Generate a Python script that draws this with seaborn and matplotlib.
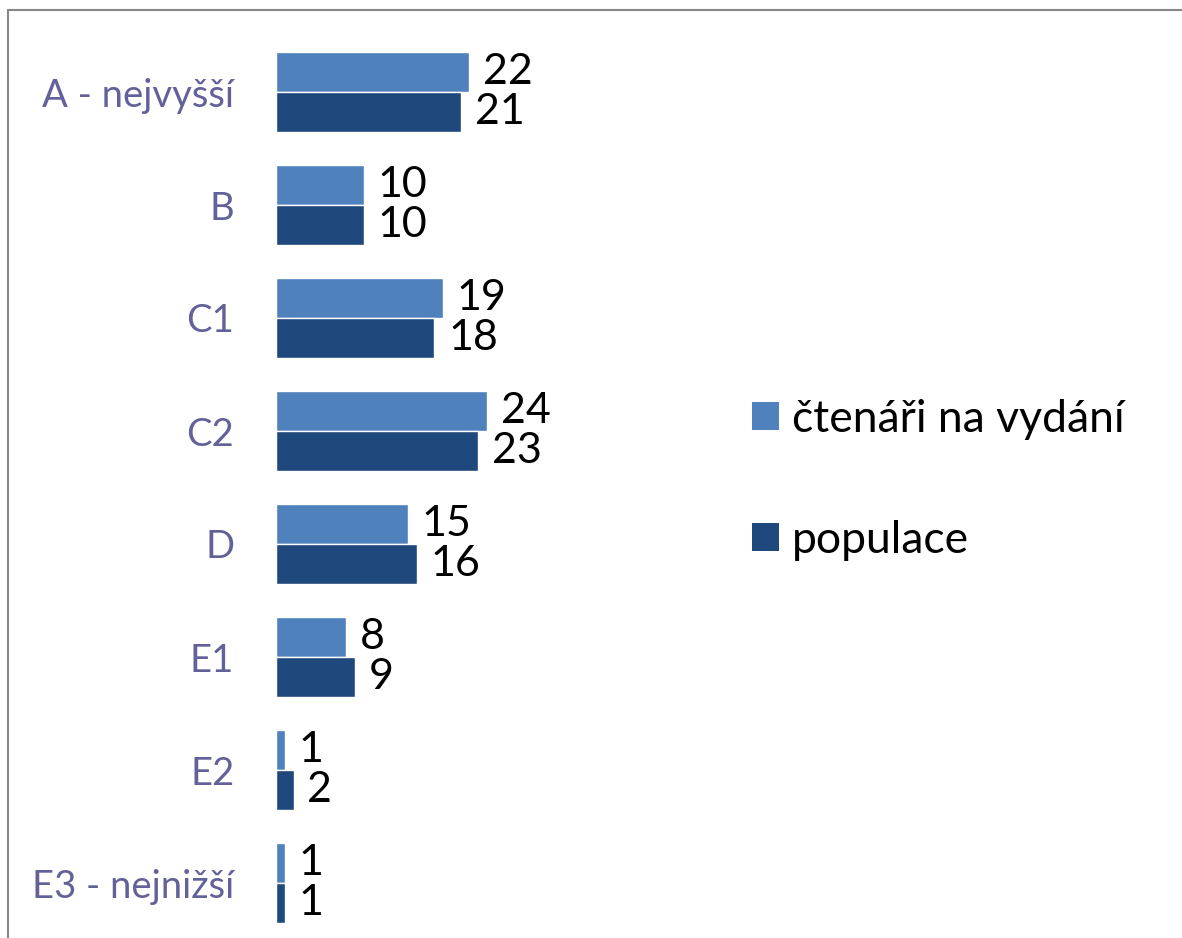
import matplotlib
matplotlib.use("Agg")
import matplotlib.pyplot as plt
import matplotlib.patches as mpatches
import seaborn as sns
import pandas as pd

categories = ["A - nejvyšší", "B", "C1", "C2", "D", "E1", "E2", "E3 - nejnižší"]
series_names = ["čtenáři na vydání", "populace"]
ctenari = [22, 10, 19, 24, 15, 8, 1, 1]
populace = [21, 10, 18, 23, 16, 9, 2, 1]
colors = ["#4f81bd", "#1f497d"]

df = pd.DataFrame({
    "kategorie": categories * 2,
    "hodnota": ctenari + populace,
    "serie": [series_names[0]] * len(categories) + [series_names[1]] * len(categories),
})

sns.set_style("white")
plt.rcParams["font.family"] = ["Lato", "DejaVu Sans"]

fig = plt.figure(figsize=(11.82, 9.38), dpi=100)
ax = fig.add_axes([276 / 1182, (938 - 939.5) / 938, 422 / 1182, 904 / 938])

sns.barplot(data=df, y="kategorie", x="hodnota", hue="serie", orient="h",
            palette=colors, saturation=1, width=0.708, gap=0, ax=ax,
            order=categories, hue_order=series_names, legend=False)

for cont in ax.containers:
    ax.bar_label(cont, padding=10, fontsize=31, color="black")

ax.set_xlim(0, 48)
ax.set_ylim(7.5, -0.5)
ax.set_xlabel("")
ax.set_ylabel("")
ax.set_xticks([])
for s in ax.spines.values():
    s.set_visible(False)
ax.tick_params(axis="y", length=0, pad=30, labelsize=27.5, labelcolor="#62619a")

handles = [mpatches.Patch(facecolor=c, edgecolor="none") for c in colors]
fig.legend(handles, series_names, loc="center left",
           bbox_to_anchor=(712 / 1182, 1 - 480 / 938), frameon=False,
           fontsize=32, handlelength=0.6, handleheight=0.6,
           handletextpad=0.3, labelspacing=1.8, labelcolor="black")

border = mpatches.Rectangle((8 / 1182, -0.05), 1.2, 1 - 10 / 938 + 0.05,
                            transform=fig.transFigure, fill=False,
                            edgecolor="#888888", linewidth=1.5)
fig.add_artist(border)

fig.savefig("out.png", dpi=100)
